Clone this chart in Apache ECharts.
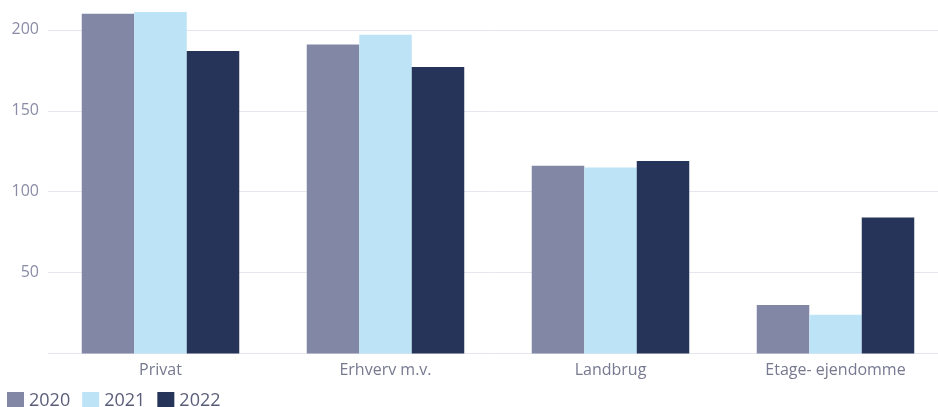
<!DOCTYPE html>
<html>
<head>
<meta charset="utf-8">
<script src="https://cdn.jsdelivr.net/npm/echarts@6/dist/echarts.min.js"></script>
<style>html,body{margin:0;padding:0;background:#fff}#c{width:938px;height:407px}</style>
</head>
<body>
<div id="c"></div>
<script>
const categories = ['Privat', 'Erhverv m.v.', 'Landbrug', 'Etage- ejendomme'];
const years = ['2020', '2021', '2022'];
const values2020 = [210, 191, 116, 30];
const values2021 = [211, 197, 115, 24];
const values2022 = [187, 177, 119, 84];
const colors = ['#8187a5', '#bde3f6', '#263459'];
const seriesValues = [values2020, values2021, values2022];

const chart = echarts.init(document.getElementById('c'), null, {renderer: 'canvas'});
chart.setOption({
  animation: false,
  textStyle: {fontFamily: 'Open Sans'},
  grid: {left: 48, top: -51, width: 900, bottom: 53.5, containLabel: false, outerBoundsMode: 'none'},
  legend: {
    left: 7, top: 392, padding: 0,
    itemWidth: 17, itemHeight: 18, itemGap: 12,
    icon: 'rect',
    textStyle: {fontSize: 18, color: '#5a5e7a', fontFamily: 'Open Sans'},
    data: years
  },
  xAxis: {
    type: 'category',
    data: categories,
    axisLine: {show: false},
    axisTick: {show: false},
    axisLabel: {fontSize: 16, color: '#767990', margin: 9}
  },
  yAxis: {
    type: 'value',
    min: 0, max: 250, interval: 50,
    axisLine: {show: false},
    axisTick: {show: false},
    axisLabel: {fontSize: 16, color: '#8a8ca6', margin: 9, showMinLabel: false},
    splitLine: {lineStyle: {color: '#e6e6ef', width: 1}}
  },
  series: years.map((y, i) => ({
    name: y,
    type: 'bar',
    data: seriesValues[i],
    barWidth: 52.5,
    barGap: '0%',
    itemStyle: {color: colors[i]}
  }))
});
</script>
</body>
</html>
